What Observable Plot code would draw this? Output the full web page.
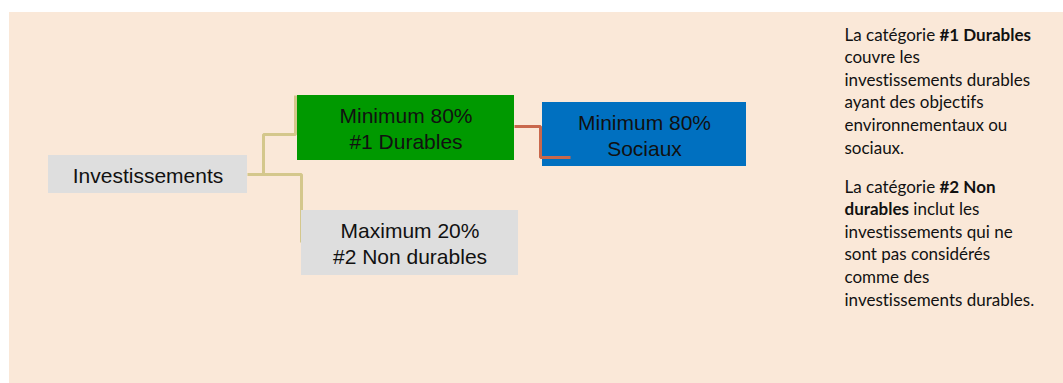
<!DOCTYPE html>
<html>
<head>
<meta charset="utf-8">
<script src="https://cdn.jsdelivr.net/npm/d3@7"></script>
<script src="https://cdn.jsdelivr.net/npm/@observablehq/plot@0.6"></script>
<style>
  html, body { margin: 0; padding: 0; background: #ffffff; }
  #chart svg { display: block; }
  #chart text { font-variant-ligatures: none; }
</style>
</head>
<body>
<div id="chart"></div>
<script>
// ---- Data ----
const categories = ["Investissements", "#1 Durables", "Sociaux", "#2 Non durables"];
const bounds = ["", "Minimum", "Minimum", "Maximum"];
const shares = [null, 80, 80, 20];
const parents = [null, 0, 1, 0];

const note1 = [
  [["La catégorie ", false], ["#1 Durables", true]],
  [["couvre les", false]],
  [["investissements durables", false]],
  [["ayant des objectifs", false]],
  [["environnementaux ou", false]],
  [["sociaux.", false]]
];
const note2 = [
  [["La catégorie ", false], ["#2 Non", true]],
  [["durables", true], [" inclut les", false]],
  [["investissements qui ne", false]],
  [["sont pas considérés", false]],
  [["comme des", false]],
  [["investissements durables.", false]]
];

// ---- Layout (pixel units of the x/y scales) ----
const W = 1063, H = 383;
const panel = {x1: 9, x2: 1063, y1: 12, y2: 383};
const boxes = [
  {x1: 48, x2: 247, y1: 155, y2: 193, fill: "#dedede"},
  {x1: 297, x2: 514, y1: 95, y2: 160, fill: "#009900"},
  {x1: 542, x2: 746, y1: 102, y2: 166, fill: "#0070c0"},
  {x1: 301, x2: 518, y1: 210, y2: 275, fill: "#dedede"}
];
const connectors = [
  {id: "a", color: "#d4c78c", pts: [[247, 174], [301, 174], [301, 242]]},
  {id: "b", color: "#d4c78c", pts: [[263, 174], [263, 134], [295, 134], [295, 95]]},
  {id: "c", color: "#c9684c", pts: [[514, 126], [540, 126], [540, 157], [570, 157]]}
];
const noteX = 844, note1Base = 40, note2Base = 192, noteLine = 22.6;
const noteFont = "Lato, 'Open Sans', sans-serif";
const noteSize = 17;

// ---- Build tables ----
const nodes = categories.map((c, i) => {
  const b = boxes[i];
  const label = shares[i] == null ? c : `${bounds[i]} ${shares[i]}%\n${c}`;
  return {...b, label, cx: (b.x1 + b.x2) / 2, cy: (b.y1 + b.y2) / 2};
});
const segs = connectors.flatMap(c => c.pts.map(([x, y]) => ({id: c.id, color: c.color, x, y})));
const khaki = segs.filter(d => d.id !== "c");
const orange = segs.filter(d => d.id === "c");

const canvas = document.createElement("canvas");
const ctx = canvas.getContext("2d");
function measure(txt, bold) {
  ctx.font = `${bold ? "bold " : ""}${noteSize}px ${noteFont}`;
  return ctx.measureText(txt).width;
}
const noteSegs = [];
[[note1, note1Base], [note2, note2Base]].forEach(([lines, base]) => {
  lines.forEach((line, li) => {
    let off = 0;
    line.forEach(([txt, bold]) => {
      noteSegs.push({text: txt, bold, x: noteX + off, y: base + li * noteLine});
      off += measure(txt, bold);
    });
  });
});

const chart = Plot.plot({
  width: W,
  height: H,
  margin: 0,
  x: {domain: [0, W], range: [0, W], axis: null},
  y: {domain: [0, H], range: [0, H], axis: null},
  style: {background: "#ffffff"},
  marks: [
    Plot.rect([panel], {x1: "x1", x2: "x2", y1: "y1", y2: "y2", fill: "#fae8d8"}),
    Plot.line(khaki, {x: "x", y: "y", z: "id", stroke: "color", strokeWidth: 3, strokeLinecap: "butt", strokeLinejoin: "miter"}),
    Plot.rect(nodes, {x1: "x1", x2: "x2", y1: "y1", y2: "y2", fill: "fill", inset: 0}),
    Plot.line(orange, {x: "x", y: "y", z: "id", stroke: "color", strokeWidth: 3, strokeLinecap: "butt", strokeLinejoin: "miter"}),
    Plot.text(nodes, {x: "cx", y: "cy", text: "label", fontSize: 21, lineHeight: 1.24, fill: "#111111",
      fontFamily: "'Liberation Sans', Arial, sans-serif", textAnchor: "middle", lineAnchor: "middle"}),
    Plot.text(noteSegs.filter(d => !d.bold), {x: "x", y: "y", text: "text", fontSize: noteSize, fontFamily: noteFont,
      textAnchor: "start", lineAnchor: "bottom", fill: "#111111"}),
    Plot.text(noteSegs.filter(d => d.bold), {x: "x", y: "y", text: "text", fontSize: noteSize, fontFamily: noteFont,
      fontWeight: "bold", textAnchor: "start", lineAnchor: "bottom", fill: "#111111"})
  ]
});
document.getElementById("chart").append(chart);
</script>
</body>
</html>
